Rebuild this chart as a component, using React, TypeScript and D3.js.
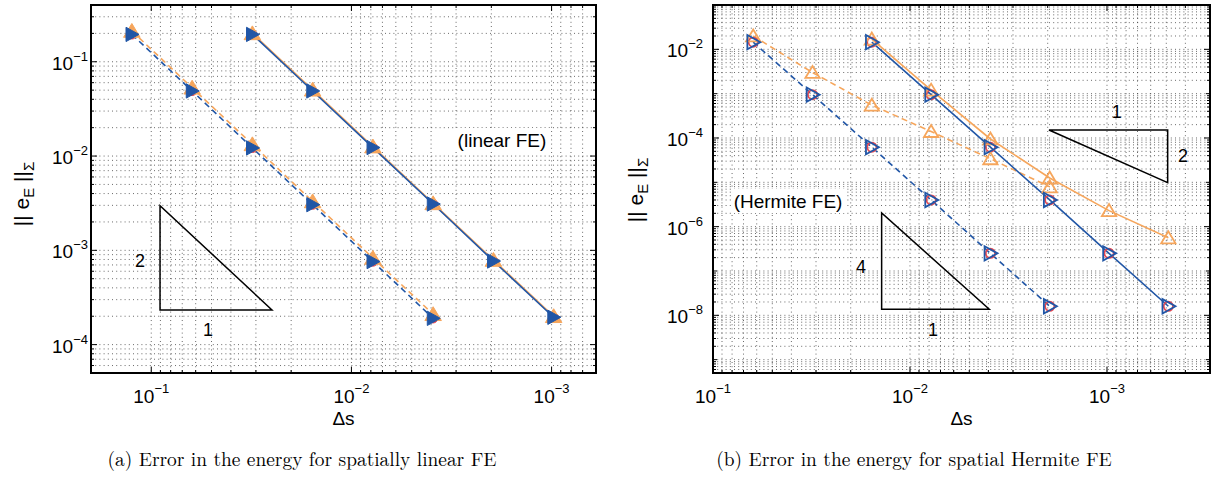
import React from 'react';
import * as d3 from 'd3';

// ---- data: linear FE (panel a)
const linDashX = [1 / 8, 1 / 16, 1 / 32, 1 / 64, 1 / 128, 1 / 256];
const linSolidX = [1 / 32, 1 / 64, 1 / 128, 1 / 256, 1 / 512, 1 / 1024];
const linBlueDash = [0.195, 0.049, 0.0122, 0.00305, 0.00076, 0.00019];
const linOrangeDash = [0.212, 0.053, 0.0133, 0.0033, 0.00083, 0.00021];
const linBlueSolid = [0.195, 0.049, 0.0123, 0.0031, 0.00077, 0.000195];
const linOrangeSolid = [0.2, 0.0505, 0.0126, 0.00315, 0.00079, 0.0002];

// ---- data: Hermite FE (panel b)
const herDashX = [1 / 16, 1 / 32, 1 / 64, 1 / 128, 1 / 256, 1 / 512];
const herSolidX = [1 / 64, 1 / 128, 1 / 256, 1 / 512, 1 / 1024, 1 / 2048];
const herBlueDash = [1.45e-2, 9.5e-4, 6.2e-5, 4e-6, 2.5e-7, 1.6e-8];
const herOrangeDash = [2e-2, 3e-3, 5.5e-4, 1.4e-4, 3.4e-5, 7.9e-6];
const herBlueSolid = [1.45e-2, 9.5e-4, 6.2e-5, 4e-6, 2.5e-7, 1.6e-8];
const herOrangeSolid = [1.7e-2, 1.2e-3, 9.5e-5, 1.25e-5, 2.3e-6, 5.6e-7];

// ticks
const linXTicks = [1e-1, 1e-2, 1e-3];
const linXLabels = ['−1', '−2', '−3'];
const linYTicks = [1e-1, 1e-2, 1e-3, 1e-4];
const linYLabels = ['−1', '−2', '−3', '−4'];
const herXTicks = [1e-1, 1e-2, 1e-3];
const herXLabels = ['−1', '−2', '−3'];
const herYTicks = [1e-2, 1e-4, 1e-6, 1e-8];
const herYLabels = ['−2', '−4', '−6', '−8'];

// slope triangles (data coords) and their labels
const linTri = [[0.0904, 2.98e-3], [0.0904, 2.33e-4], [0.02494, 2.33e-4]];
const linTriLabels = [{ t: '2', x: 0.1138, y: 7.7e-4 }, { t: '1', x: 0.0521, y: 1.43e-4 }];
const herTriA = [[0.01393, 2.03e-6], [0.01393, 1.37e-8], [3.96e-3, 1.37e-8]];
const herTriB = [[1.97e-3, 1.515e-4], [4.92e-4, 1.515e-4], [4.92e-4, 9.8e-6]];
const herTriLabels = [
  { t: '4', x: 0.01773, y: 1.25e-7 },
  { t: '1', x: 7.64e-3, y: 4.67e-9 },
  { t: '1', x: 8.93e-4, y: 3.92e-4 },
  { t: '2', x: 4.11e-4, y: 3.93e-5 },
];

const BLUE = '#2156a6';
const ORANGE = '#f6a65c';
const RED = '#e8474f';
const SANS = '"Liberation Sans", Arial, Helvetica, sans-serif';
const SERIF = '"Latin Modern Roman", "Liberation Serif", serif';

type Marker = 'up' | 'right' | 'circle';
type Series = { x: number[]; y: number[]; color: string; dashed?: boolean; line: boolean; marker: Marker; size: number };

function markerPath(m: Marker, s: number) {
  if (m === 'up') return `M${-s * 0.55},${s * 0.42}L${s * 0.55},${s * 0.42}L0,${-s * 0.5}Z`;
  if (m === 'right') return `M${-s * 0.45},${-s * 0.55}L${s * 0.55},0L${-s * 0.45},${s * 0.55}Z`;
  return d3.symbol(d3.symbolCircle, s * s * 0.55)() || '';
}

function Panel(props: {
  x: d3.ScaleLogarithmic<number, number>;
  y: d3.ScaleLogarithmic<number, number>;
  series: Series[];
  filled: boolean;
  xTicks: number[]; xLabels: string[];
  yTicks: number[]; yLabels: string[];
  yLabelGap: number;
  tris: number[][][];
  triLabels: { t: string; x: number; y: number }[];
  note: { t: string; x: number; y: number; w: number };
  ylabX: number; ylabY: number;
}) {
  const { x, y } = props;
  const [x0, x1] = x.range();
  const [y0, y1] = y.range();
  const L = Math.min(x0, x1), R = Math.max(x0, x1), T = Math.min(y0, y1), B = Math.max(y0, y1);
  const xAll = x.ticks();
  const yAll = y.ticks();
  const yDec = yAll.filter(v => Math.abs(Math.log10(v) - Math.round(Math.log10(v))) < 1e-9);
  const isMajor = (arr: number[], v: number) => arr.some(a => Math.abs(a - v) / a < 1e-6);
  const grid = { stroke: '#222', strokeWidth: 0.9, strokeDasharray: '1 3.2', strokeOpacity: 0.75 };
  const line = d3.line<[number, number]>().x(d => x(d[0])).y(d => y(d[1]));
  const cx = (L + R) / 2;

  return (
    <g>
      {/* grid */}
      {xAll.map((v, i) => (
        <line key={'gx' + i} x1={x(v)} x2={x(v)} y1={T} y2={B} {...grid} />
      ))}
      {yAll.map((v, i) => (
        <line key={'gy' + i} x1={L} x2={R} y1={y(v)} y2={y(v)} {...grid} />
      ))}
      {/* slope triangles */}
      {props.tris.map((t, i) => (
        <path key={'tri' + i} d={line(t as [number, number][]) + 'Z'} fill="none" stroke="#000" strokeWidth={1.5} />
      ))}
      {props.triLabels.map((l, i) => (
        <text key={'tl' + i} x={x(l.x)} y={y(l.y) + 6} textAnchor="middle" fontFamily={SANS} fontSize={18}>{l.t}</text>
      ))}
      <rect x={x(props.note.x) - props.note.w / 2} y={y(props.note.y) - 12} width={props.note.w} height={24} fill="#fff" />
      <text x={x(props.note.x)} y={y(props.note.y) + 7} textAnchor="middle" fontFamily={SANS} fontSize={19}>{props.note.t}</text>
      {/* series */}
      {props.series.filter(s => s.line).map((s, i) => (
        <path key={'ln' + i} d={line(s.x.map((v, j) => [v, s.y[j]]) as [number, number][]) || ''} fill="none" stroke={s.color}
          strokeWidth={1.6} strokeDasharray={s.dashed ? '6 4' : undefined} />
      ))}
      {props.series.map((s, i) => s.x.map((v, j) => (
        <path key={'mk' + i + '-' + j} transform={`translate(${x(v)},${y(s.y[j])})`}
          d={markerPath(s.marker, s.size)}
          fill={props.filled ? s.color : 'none'} stroke={s.color} strokeWidth={props.filled ? 1 : 1.8} />
      )))}
      {/* ticks */}
      {xAll.map((v, i) => {
        const len = isMajor(props.xTicks, v) ? 6 : 3;
        return <g key={'tx' + i}>
          <line x1={x(v)} x2={x(v)} y1={B} y2={B - len} stroke="#000" strokeWidth={1} />
          <line x1={x(v)} x2={x(v)} y1={T} y2={T + len} stroke="#000" strokeWidth={1} />
        </g>;
      })}
      {yAll.map((v, i) => {
        const len = isMajor(props.yTicks, v) ? 6 : (isMajor(yDec, v) ? 4 : 3);
        return <g key={'ty' + i}>
          <line x1={L} x2={L + len} y1={y(v)} y2={y(v)} stroke="#000" strokeWidth={1} />
          <line x1={R} x2={R - len} y1={y(v)} y2={y(v)} stroke="#000" strokeWidth={1} />
        </g>;
      })}
      <rect x={L} y={T} width={R - L} height={B - T} fill="none" stroke="#000" strokeWidth={2} />
      {/* tick labels */}
      {props.xTicks.map((v, i) => (
        <text key={'xl' + i} x={x(v)} y={B + 30} textAnchor="middle" fontFamily={SANS} fontSize={19}>
          10<tspan dy={-10} fontSize={13}>{props.xLabels[i]}</tspan>
        </text>
      ))}
      {props.yTicks.map((v, i) => (
        <text key={'yl' + i} x={L - props.yLabelGap} y={y(v) + 8} textAnchor="end" fontFamily={SANS} fontSize={19}>
          10<tspan dy={-9} fontSize={13}>{props.yLabels[i]}</tspan>
        </text>
      ))}
      {/* axis labels */}
      <text x={cx} y={B + 52} textAnchor="middle" fontFamily={SANS} fontSize={19}>Δs</text>
      <text transform={`translate(${props.ylabX},${props.ylabY}) rotate(-90)`} textAnchor="middle" fontFamily={SANS} fontSize={21}>
        || e<tspan dy={5} fontSize={15}>E</tspan><tspan dy={-5}> ||</tspan><tspan dy={5} fontSize={15}>Σ</tspan>
      </text>
    </g>
  );
}

export default function App() {
  const xL = d3.scaleLog().domain([0.2, 6e-4]).range([91, 596]);
  const yL = d3.scaleLog().domain([5e-5, 0.4]).range([373, 5]);
  const xH = d3.scaleLog().domain([0.1, 3e-4]).range([713, 1210]);
  const yH = d3.scaleLog().domain([5e-10, 0.1]).range([373, 5]);

  const linSeries: Series[] = [
    { x: linDashX, y: linBlueDash, color: RED, line: false, marker: 'circle', size: 11 },
    { x: linSolidX, y: linBlueSolid, color: RED, line: false, marker: 'circle', size: 11 },
    { x: linDashX, y: linOrangeDash, color: ORANGE, dashed: true, line: true, marker: 'up', size: 15 },
    { x: linSolidX, y: linOrangeSolid, color: ORANGE, line: true, marker: 'up', size: 15 },
    { x: linDashX, y: linBlueDash, color: BLUE, dashed: true, line: true, marker: 'right', size: 13 },
    { x: linSolidX, y: linBlueSolid, color: BLUE, line: true, marker: 'right', size: 13 },
  ];
  const herSeries: Series[] = [
    { x: herDashX, y: herBlueDash, color: RED, line: false, marker: 'circle', size: 11 },
    { x: herSolidX, y: herBlueSolid, color: RED, line: false, marker: 'circle', size: 11 },
    { x: herDashX, y: herOrangeDash, color: ORANGE, dashed: true, line: true, marker: 'up', size: 13 },
    { x: herSolidX, y: herOrangeSolid, color: ORANGE, line: true, marker: 'up', size: 13 },
    { x: herDashX, y: herBlueDash, color: BLUE, dashed: true, line: true, marker: 'right', size: 13 },
    { x: herSolidX, y: herBlueSolid, color: BLUE, line: true, marker: 'right', size: 13 },
  ];

  return (
    <div style={{ position: 'absolute', left: 0, top: 0 }}>
      <svg width={1212} height={484} style={{ display: 'block', background: '#fff' }}>
        <Panel x={xL} y={yL} series={linSeries} filled
          xTicks={linXTicks} xLabels={linXLabels} yTicks={linYTicks} yLabels={linYLabels} yLabelGap={3}
          tris={[linTri]} triLabels={linTriLabels}
          note={{ t: '(linear FE)', x: 1.77e-3, y: 0.0148, w: 96 }} ylabX={29} ylabY={194} />
        <Panel x={xH} y={yH} series={herSeries} filled={false}
          xTicks={herXTicks} xLabels={herXLabels} yTicks={herYTicks} yLabels={herYLabels} yLabelGap={10}
          tris={[herTriA, herTriB]} triLabels={herTriLabels}
          note={{ t: '(Hermite FE)', x: 0.0416, y: 3.79e-6, w: 114 }} ylabX={643} ylabY={190} />
        <text x={302} y={466} textAnchor="middle" fontFamily={SERIF} fontSize={19.4}>(a)  Error in the energy for spatially linear FE</text>
        <text x={914} y={466} textAnchor="middle" fontFamily={SERIF} fontSize={19.4}>(b)  Error in the energy for spatial Hermite FE</text>
      </svg>
    </div>
  );
}
